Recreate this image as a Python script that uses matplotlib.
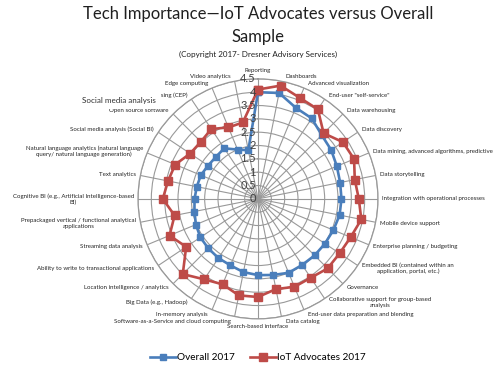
import numpy as np
import matplotlib
matplotlib.use('Agg')
import matplotlib.pyplot as plt

plt.rcParams['font.family'] = ['Lato', 'DejaVu Sans']

# Категории (по часовой стрелке, начиная сверху)
categories = [
    'Reporting', 'Dashboards', 'Advanced visualization', 'End-user "self-service"',
    'Data warehousing', 'Data discovery', 'Data mining, advanced algorithms, predictive',
    'Data storytelling', 'Integration with operational processes', 'Mobile device support',
    'Enterprise planning / budgeting',
    'Embedded BI (contained within an\napplication, portal, etc.)',
    'Governance', 'Collaborative support for group-based\nanalysis',
    'End-user data preparation and blending', 'Data catalog', 'Search-based interface',
    'Software-as-a-Service and cloud computing', 'In-memory analysis',
    'Big Data (e.g., Hadoop)', 'Location intelligence / analytics',
    'Ability to write to transactional applications', 'Streaming data analysis',
    'Prepackaged vertical / functional analytical\napplications',
    'Cognitive BI (e.g., Artificial Intelligence-based\nBI)', 'Text analytics',
    'Natural language analytics (natural language\nquery/ natural language generation)',
    'Social media analysis (Social BI)', 'Open source software',
    'Complex event processing (CEP)', 'Edge computing', 'Video analytics',
]

overall_2017 = [4.0, 4.05, 3.7, 3.63, 3.38, 3.3, 3.2, 3.14, 3.13, 3.12, 3.06, 3.02,
                3.0, 2.98, 3.0, 2.91, 2.86, 2.8, 2.7, 2.67, 2.63, 2.6, 2.52, 2.43,
                2.38, 2.34, 2.32, 2.25, 2.23, 2.28, 2.0, 1.86]
iot_2017 = [4.1, 4.33, 4.1, 4.04, 3.48, 3.83, 3.9, 3.7, 3.78, 3.95, 3.76, 3.68,
            3.69, 3.56, 3.57, 3.45, 3.68, 3.69, 3.47, 3.63, 3.99, 3.24, 3.59, 3.19,
            3.57, 3.44, 3.36, 3.06, 3.03, 3.15, 2.9, 2.92]

r_ticks = [0, 0.5, 1, 1.5, 2, 2.5, 3, 3.5, 4, 4.5]

n = len(categories)
angles = np.arange(n) * 2 * np.pi / n

fig = plt.figure(figsize=(5, 3.77), dpi=100)
ax = fig.add_axes([0.276, 0.154, 0.48, 0.637], projection='polar')
ax.set_theta_zero_location('N')
ax.set_theta_direction(-1)
ax.set_ylim(0, 4.5)

grid_col = '#999999'
ax.set_xticks(angles)
ax.set_xticklabels([])
ax.set_yticks(r_ticks)
ax.set_yticklabels([])
ax.grid(True, color=grid_col, lw=0.8)
ax.spines['polar'].set_color(grid_col)
ax.spines['polar'].set_linewidth(0.9)

# Подписи радиальной оси
for v in r_ticks:
    ax.annotate(f'{v:g}', xy=(0, v), xytext=(-1.5, 0), textcoords='offset points',
                ha='right', va='center', fontsize=8, color='#404040')

# Серии данных
a_closed = np.append(angles, angles[0])
ax.plot(a_closed, np.append(overall_2017, overall_2017[0]), color='#4A7EBB', lw=1.9,
        marker='s', ms=4, label='Overall 2017', clip_on=False)
ax.plot(a_closed, np.append(iot_2017, iot_2017[0]), color='#BE4B48', lw=1.9,
        marker='s', ms=5.6, label='IoT Advocates 2017', clip_on=False)

# Подписи категорий
for ang, lbl in zip(angles, categories):
    s, c = np.sin(ang), np.cos(ang)
    if abs(s) < 0.05:
        ha = 'center'
        va = 'bottom' if c > 0 else 'top'
        dx, dy = 0, 4 * np.sign(c)
    else:
        ha = 'left' if s > 0 else 'right'
        va = 'center'
        dx, dy = 3 * np.sign(s), 3.5 * c
    ax.annotate(lbl, xy=(ang, 4.5), xytext=(dx, dy), textcoords='offset points',
                ha=ha, va=va, multialignment='center', fontsize=4.4, color='#262626',
                annotation_clip=False)

# Накладной текст поверх подписей
fig.text(0.238, 1 - 100 / 377, 'Social media analysis', ha='center', va='center',
         fontsize=5.8, color='#303030',
         bbox=dict(facecolor='white', edgecolor='none', pad=4), zorder=10)

fig.text(0.516, 1 - 14 / 377, 'Tech Importance\u2014IoT Advocates versus Overall',
         ha='center', va='center', fontsize=12, color='#202020')
fig.text(0.516, 1 - 37 / 377, 'Sample', ha='center', va='center', fontsize=12,
         color='#202020')
fig.text(0.516, 1 - 54 / 377, '(Copyright 2017- Dresner Advisory Services)',
         ha='center', va='center', fontsize=5.8, color='#202020')

fig.legend(loc='center', bbox_to_anchor=(0.516, 1 - 358 / 377), ncol=2, frameon=False,
           fontsize=7.2, handlelength=2.6, columnspacing=1.5, handletextpad=0.1)

fig.savefig('out.png', dpi=100)
